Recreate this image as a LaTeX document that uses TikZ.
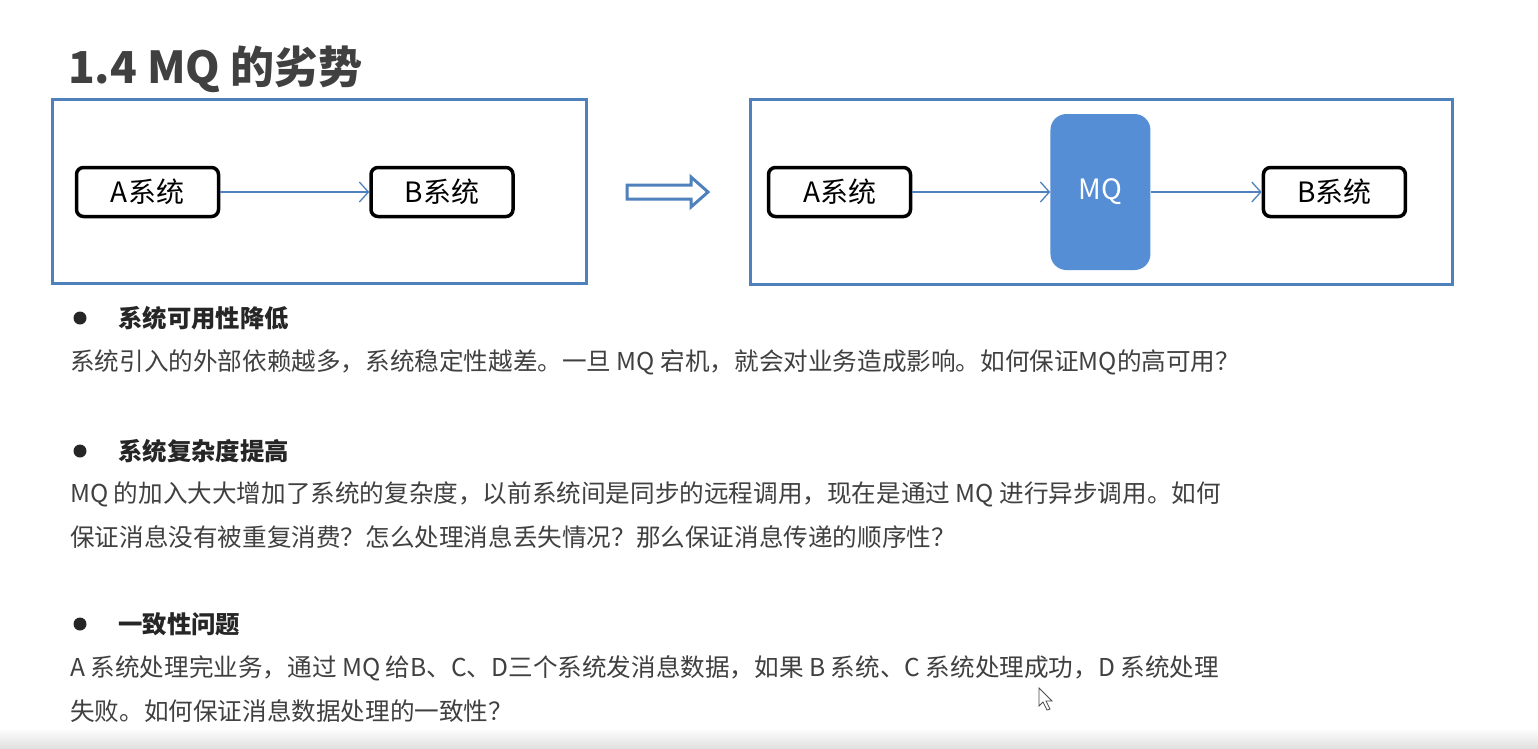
\documentclass[tikz,border=0pt]{standalone}
\usepackage{fontspec}
\setmainfont{Noto Sans CJK SC}
\usetikzlibrary{arrows.meta, positioning}

\definecolor{frameblue}{RGB}{79,129,189}
\definecolor{mqblue}{RGB}{85,142,213}
\definecolor{txtgray}{RGB}{64,64,64}

\begin{document}
\begin{tikzpicture}[
    x=1pt, y=-1pt,
    frame/.style={draw=frameblue, line width=3pt},
    sysbox/.style={rectangle, draw, line width=3.5pt, rounded corners=7pt, minimum width=142pt, minimum height=49pt, font=\fontsize{28}{30}\selectfont},
    mqbox/.style={rectangle, fill=mqblue, rounded corners=16pt, minimum width=100pt, minimum height=156pt, text=white, font=\fontsize{28}{30}\selectfont},
    flow/.style={-{Straight Barb[length=9pt, width=20pt]}, draw=frameblue, line width=1.3pt},
    dot/.style={circle, fill=black!85, inner sep=0pt, minimum size=13pt},
    heading/.style={anchor=base west, inner sep=0pt, font=\fontsize{24.4}{28}\selectfont\bfseries, text=black!85},
    para/.style={anchor=base west, inner sep=0pt, font=\fontsize{24.6}{28}\selectfont, text=txtgray}
]
\useasboundingbox (0,0) rectangle (1538,748);
\fill[white] (0,0) rectangle (1538,748);

% Title
\node[anchor=base west, inner sep=0pt, font=\fontsize{44}{50}\selectfont\bfseries, text=txtgray] (title) at (68,83) {1.4 MQ 的劣势};

% Frames
\draw[frame] (52,99) rectangle (586,283);
\draw[frame] (750,99) rectangle (1452,284);

% Nodes
\node[sysbox] (a1) at (147.5,192) {A系统};
\node[sysbox, right=149pt of a1] (b1) {B系统};
\node[sysbox] (a2) at (839.5,192) {A系统};
\node[mqbox, right=138pt of a2] (mq) {MQ};
\node[sysbox, right=111pt of mq] (b2) {B系统};

% Arrows
\draw[flow] (a1) -- (b1);
\draw[flow] (a2) -- (mq);
\draw[flow] (mq) -- (b2);

% Hollow arrow between the two frames
\draw[frameblue, line width=3pt, line join=miter] (627,185) -- (691,185) -- (691,177) -- (708,192) -- (691,207) -- (691,199) -- (627,199) -- cycle;

% Text
\node[dot] (d1) at (80,318) {};
\node[heading] (h1) at (118,327) {系统可用性降低};
\node[para] (p1) at (70,370) {系统引入的外部依赖越多，系统稳定性越差。一旦 MQ 宕机，就会对业务造成影响。如何保证MQ的高可用？};

\node[dot] (d2) at (80,451) {};
\node[heading] (h2) at (118,460) {系统复杂度提高};
\node[para] (p2) at (70,502) {MQ 的加入大大增加了系统的复杂度，以前系统间是同步的远程调用，现在是通过 MQ 进行异步调用。如何};
\node[para] (p3) at (70,546) {保证消息没有被重复消费？怎么处理消息丢失情况？那么保证消息传递的顺序性？};

\node[dot] (d3) at (80,624) {};
\node[heading] (h3) at (118,633) {一致性问题};
\node[para] (p4) at (70,676) {A 系统处理完业务，通过 MQ 给B、C、D三个系统发消息数据，如果 B 系统、C 系统处理成功，D 系统处理};
\node[para] (p5) at (70,720) {失败。如何保证消息数据处理的一致性？};

% Screen bottom and pointer
\shade[top color=white, bottom color=black!12] (0,728) rectangle (1538,748);
\draw[black!70, fill=white, line width=0.8pt] (1039,688) -- (1039,706) -- (1043,702) -- (1047,710) -- (1050,709) -- (1046,701) -- (1052,701) -- cycle;

\end{tikzpicture}
\end{document}
